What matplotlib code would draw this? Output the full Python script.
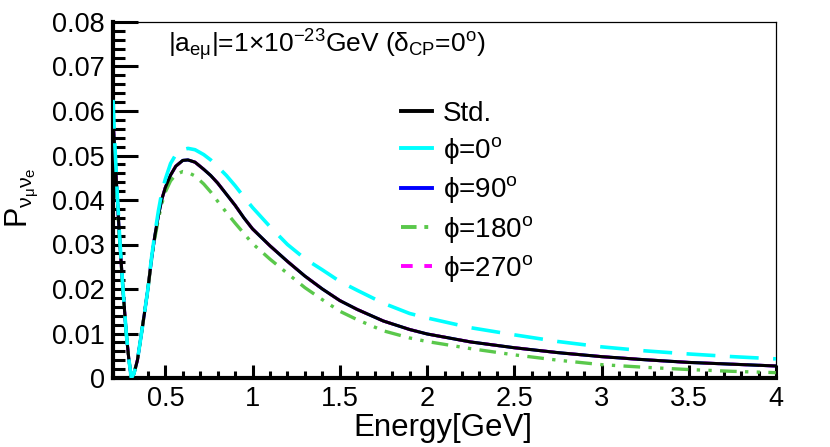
import matplotlib
matplotlib.use("Agg")
import matplotlib.pyplot as plt
from matplotlib.ticker import MultipleLocator, FuncFormatter
from matplotlib.lines import Line2D

plt.rcParams['font.family'] = ['Liberation Sans', 'DejaVu Sans']
plt.rcParams['mathtext.fontset'] = 'custom'
plt.rcParams['mathtext.rm'] = 'Liberation Sans'
plt.rcParams['mathtext.it'] = 'Liberation Sans'
plt.rcParams['mathtext.bf'] = 'Liberation Sans:bold'

# energies (GeV)
energy = [0.2, 0.21, 0.225, 0.24, 0.257, 0.276, 0.29, 0.305,
          0.32, 0.34, 0.36, 0.38, 0.40, 0.42, 0.44, 0.46, 0.48, 0.5,
          0.53, 0.56, 0.6, 0.63, 0.67, 0.72, 0.76, 0.8, 0.85, 0.9, 0.95, 1.0,
          1.1, 1.2, 1.3, 1.4, 1.5, 1.6, 1.75, 1.9, 2.0,
          2.25, 2.5, 2.75, 3.0, 3.25, 3.5, 3.75, 4.0]

p_std = [0.058, 0.051, 0.040, 0.030, 0.020, 0.010, 0.0045, 0.0,
         0.001, 0.004, 0.0092, 0.0145, 0.020, 0.0265, 0.032, 0.0365, 0.0402, 0.0428,
         0.0456, 0.0476, 0.0489, 0.0490, 0.0485, 0.0469, 0.0455, 0.0438, 0.0413,
         0.0388, 0.0360, 0.0335,
         0.0297, 0.0262, 0.0229, 0.0200, 0.0174, 0.0154, 0.0128, 0.0109, 0.0099,
         0.0081, 0.0068, 0.0057, 0.0048, 0.0041, 0.0035, 0.0031, 0.0027]

p_phi0 = [0.0625, 0.053, 0.041, 0.0305, 0.0202, 0.0101, 0.0045, 0.0,
          0.001, 0.004, 0.0092, 0.0145, 0.020, 0.0268, 0.0325, 0.0375, 0.0418, 0.0447,
          0.0482, 0.0502, 0.0513, 0.0516, 0.0513, 0.0502, 0.0490, 0.0475, 0.0455,
          0.0432, 0.0407, 0.0383,
          0.0340, 0.0300, 0.0268, 0.0243, 0.0217, 0.0197, 0.0168, 0.0145, 0.0135,
          0.0113, 0.0097, 0.0082, 0.0070, 0.0061, 0.0054, 0.0048, 0.0043]

# phi=90 and phi=270 lie under the standard curve
p_phi90 = p_std
p_phi270 = p_std

p_phi180 = [0.055, 0.050, 0.039, 0.0295, 0.0198, 0.0099, 0.0045, 0.0,
            0.001, 0.004, 0.0092, 0.0145, 0.020, 0.0263, 0.0315, 0.0357, 0.0392, 0.0418,
            0.0443, 0.0457, 0.0464, 0.0462, 0.0454, 0.0436, 0.0418, 0.0397, 0.0372,
            0.0348, 0.0325, 0.0302,
            0.0267, 0.0235, 0.0203, 0.0176, 0.0150, 0.0131, 0.0106, 0.0090, 0.0082,
            0.0066, 0.0052, 0.0040, 0.0030, 0.0024, 0.0019, 0.0015, 0.0012]

labels = ['Std.', r'$\phi$=0$^{o}$', r'$\phi$=90$^{o}$', r'$\phi$=180$^{o}$',
          r'$\phi$=270$^{o}$']

GREEN = '#5ac84b'

fig = plt.figure(figsize=(8.3, 4.47), dpi=100)
ax = fig.add_axes([113/830, 1 - 378/447, 663/830, 356/447])

ax.plot(energy, p_phi90, color='blue', lw=2.2, zorder=1)
ax.plot(energy, p_phi270, color='magenta', lw=2.2, dashes=(5, 4), zorder=1)
ax.plot(energy, p_std, color='black', lw=2.2, zorder=3)
ax.plot(energy, p_phi0, color='cyan', lw=2.6, dashes=(8, 4), zorder=4)
ax.plot(energy, p_phi180, color=GREEN, lw=2.4,
        dashes=(5, 2.5, 1, 2.5, 1, 2.5), zorder=2)

ax.set_xlim(0.2, 4.0)
ax.set_ylim(0, 0.08)

ax.xaxis.set_major_locator(MultipleLocator(0.5))
ax.xaxis.set_minor_locator(MultipleLocator(0.1))
ax.yaxis.set_major_locator(MultipleLocator(0.01))
ax.yaxis.set_minor_locator(MultipleLocator(0.002))
ax.xaxis.set_major_formatter(FuncFormatter(lambda v, p: '%g' % v))
ax.yaxis.set_major_formatter(FuncFormatter(lambda v, p: '%g' % round(v, 3)))

ax.tick_params(axis='both', which='both', direction='in', width=2.2,
               top=False, right=False, labelsize=19.5)
ax.tick_params(axis='y', which='major', length=18, pad=6)
ax.tick_params(axis='y', which='minor', length=8.5)
ax.tick_params(axis='x', which='major', length=9.5, pad=6)
ax.tick_params(axis='x', which='minor', length=4.7)

ax.spines['left'].set_linewidth(3)
ax.spines['bottom'].set_linewidth(3)
ax.spines['top'].set_linewidth(0.9)
ax.spines['right'].set_linewidth(0.9)

# axis titles placed in figure pixels, as in the reference
fig.text(443/830, 1 - 436/447, 'Energy[GeV]', fontsize=22.5,
         ha='center', va='baseline')
fig.text(22/830, 1 - 198/447, r'$P_{\nu_{\mu}\nu_{e}}$', fontsize=22,
         rotation=90, ha='center', va='center')

ax.text(0.083, 0.935,
        r'$|a_{e\mu}|$=1$\times$10$^{-23}$GeV ($\delta_{CP}$=0$^{o}$)',
        transform=ax.transAxes, fontsize=19, va='center', ha='left')

handles = [
    Line2D([], [], color='black', lw=2.8),
    Line2D([], [], color='cyan', lw=2.8),
    Line2D([], [], color='blue', lw=2.8),
    Line2D([], [], color=GREEN, lw=2.8, dashes=(4, 2, 1, 2, 1, 2)),
    Line2D([], [], color='magenta', lw=2.8, dashes=(3, 3)),
]
ax.legend(handles, labels, loc='upper left', bbox_to_anchor=(0.418, 0.81),
          frameon=False, fontsize=20, handlelength=1.1, handletextpad=0.4,
          labelspacing=0.3, borderaxespad=0)

fig.savefig('out.png', dpi=100)
